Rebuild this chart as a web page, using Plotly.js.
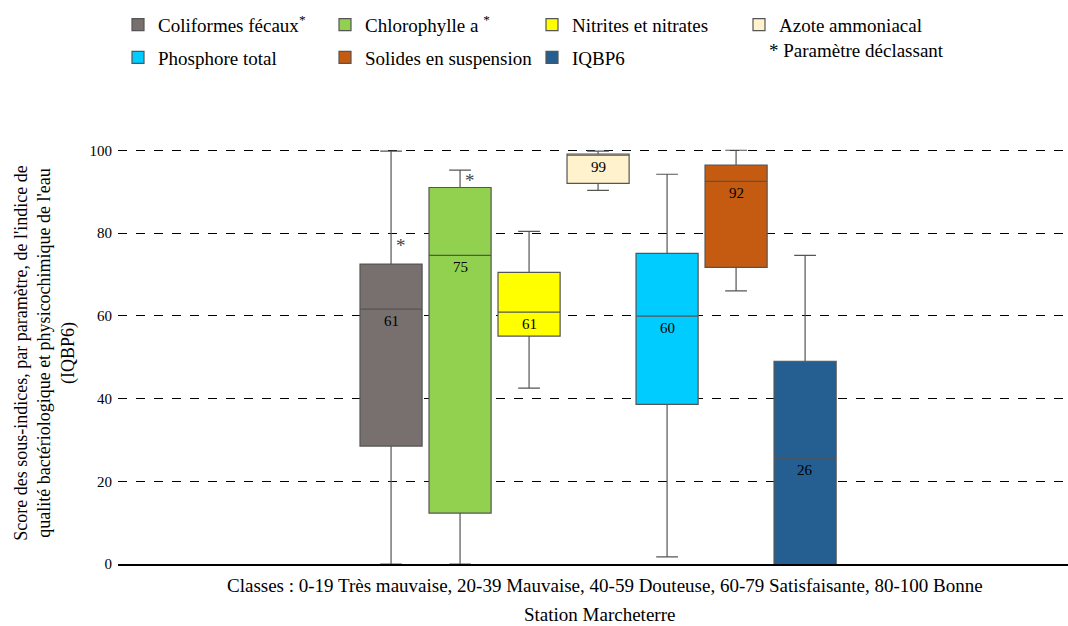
<!DOCTYPE html>
<html><head><meta charset="utf-8">
<script src="https://cdn.plot.ly/plotly-3.0.1.min.js"></script>
<style>html,body{margin:0;padding:0;background:#fff}#c{width:1068px;height:626px}</style>
</head><body><div id="c"></div>
<script>
const categories = ["Coliformes fécaux", "Chlorophylle a", "Nitrites et nitrates", "Azote ammoniacal", "Phosphore total", "Solides en suspension", "IQBP6"];
const legendNames = ["Coliformes fécaux<sup>*</sup>", "Chlorophylle a <sup>*</sup>", "Nitrites et nitrates", "Azote ammoniacal", "Phosphore total", "Solides en suspension", "IQBP6"];
const lowerFence = [0, 0, 42.5, 90.3, 1.7, 66, 0];
const q1Values = [28.5, 12.3, 55.1, 92, 38.6, 71.7, 0];
const medianValues = [61.6, 74.6, 60.9, 98.8, 59.9, 92.5, 25.6];
const q3Values = [72.5, 91, 70.5, 99.1, 75.1, 96.4, 49];
const upperFence = [99.8, 95.2, 80.4, 99.8, 94.2, 100, 74.6];
const medianLabels = ["61", "75", "61", "99", "60", "92", "26"];
const colors = ["#77706F", "#92D050", "#FFFF00", "#FFF2CC", "#00CCFF", "#C55A11", "#255E91"];
const declassant = ["Coliformes fécaux", "Chlorophylle a"];
const declassantY = [77, 92.8];
const yTicks = [0, 20, 40, 60, 80, 100];

const SERIF = 'Liberation Serif, Times New Roman, serif';

const traces = categories.map((c, i) => ({
  type: 'box',
  name: legendNames[i],
  x: [c],
  q1: [q1Values[i]], median: [medianValues[i]], q3: [q3Values[i]],
  lowerfence: [lowerFence[i]], upperfence: [upperFence[i]],
  fillcolor: colors[i],
  line: {color: '#555555', width: 1.2},
  width: 0.9,
  whiskerwidth: 0.35,
  legend: i < 4 ? 'legend' : 'legend2',
  hoverinfo: 'skip'
}));

const annotations = categories.map((c, i) => ({
  x: c, y: medianValues[i], xref: 'x', yref: 'y', text: medianLabels[i],
  showarrow: false, yanchor: 'top', yshift: -2,
  font: {family: SERIF, size: 15, color: '#000'}
}));
declassant.forEach((c, i) => annotations.push({
  x: c, y: declassantY[i], xref: 'x', yref: 'y', text: '*', showarrow: false,
  xshift: 10, font: {family: SERIF, size: 19, color: '#444'}
}));
annotations.push({
  xref: 'paper', yref: 'paper', x: 0.513, y: -0.05, yanchor: 'middle', showarrow: false,
  text: 'Classes : 0-19 Très mauvaise, 20-39 Mauvaise, 40-59 Douteuse, 60-79 Satisfaisante, 80-100 Bonne',
  font: {family: SERIF, size: 19, color: '#000'}
});
annotations.push({
  xref: 'paper', yref: 'paper', x: 0.507, y: -0.12, yanchor: 'middle', showarrow: false,
  text: 'Station Marcheterre',
  font: {family: SERIF, size: 19, color: '#000'}
});
annotations.push({
  xref: 'paper', yref: 'paper', x: 0.683, y: 1.218, xanchor: 'left', yanchor: 'middle', showarrow: false,
  text: '* Paramètre déclassant',
  font: {family: SERIF, size: 19, color: '#000'}
});

const legendCommon = {
  orientation: 'h', xanchor: 'left', yanchor: 'top', x: 0,
  entrywidth: 162, entrywidthmode: 'pixels',
  bgcolor: 'rgba(0,0,0,0)', font: {family: SERIF, size: 19, color: '#000'}
};

const layout = {
  width: 1068, height: 626,
  font: {family: SERIF, color: '#000'},
  margin: {l: 118, r: 0, t: 142, b: 62},
  paper_bgcolor: '#fff', plot_bgcolor: '#fff',
  showlegend: true,
  legend: Object.assign({}, legendCommon, {y: 1.323}),
  legend2: Object.assign({}, legendCommon, {y: 1.245}),
  xaxis: {type: 'category', range: [-3.957, 9.81], showticklabels: false, ticks: '',
    showgrid: false, showline: true, linecolor: '#000', linewidth: 2, zeroline: false, fixedrange: true},
  yaxis: {range: [0, 102], tickvals: yTicks, ticks: '', showline: false, zeroline: false,
    showgrid: true, gridcolor: '#000', griddash: 'dash', gridwidth: 1, ticklabelstandoff: 5,
    tickfont: {family: SERIF, size: 15, color: '#000'},
    title: {text: "Score des sous-indices, par paramètre, de l'indice de<br>qualité bactériologique et physicochimique de l'eau<br>(IQBP6)",
      font: {family: SERIF, size: 18, color: '#000'}, standoff: 10}},
  annotations: annotations
};

Plotly.newPlot('c', traces, layout, {displayModeBar: false, staticPlot: true});
</script></body></html>
